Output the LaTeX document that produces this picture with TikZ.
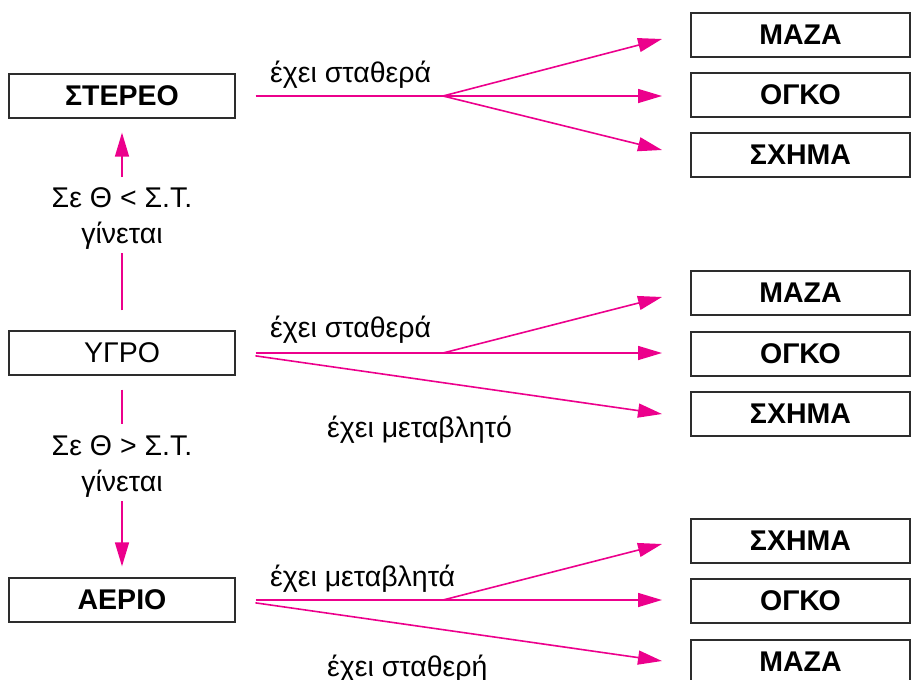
\documentclass[tikz,border=0pt]{standalone}
\usepackage{fontspec}
\setmainfont{Liberation Sans}
\usetikzlibrary{arrows.meta}
\definecolor{rub}{RGB}{236,0,140}
\definecolor{frame}{RGB}{45,45,45}
\begin{document}
\begin{tikzpicture}[x=1pt,y=-1pt,
  txt/.style={font=\fontsize{28.5}{34}\selectfont},
  box/.style={draw=frame, line width=1.3pt, minimum width=226pt, minimum height=44pt, inner sep=0pt, txt},
  bbox/.style={box, font=\fontsize{28.5}{34}\selectfont\bfseries},
  rbox/.style={bbox, minimum width=219pt},
  pl/.style={draw=rub, line width=1.6pt},
  arr/.style={pl, -{Triangle[length=24pt,width=14pt]}},
  lab/.style={txt, inner sep=0pt, anchor=base west},
  vlab/.style={txt, inner sep=0pt, anchor=base}
]
\useasboundingbox (0,0) rectangle (911,680);
\clip (0,0) rectangle (911,680);
% left column
\node[bbox] (stereo) at (122,96) {ΣΤΕΡΕΟ};
\node[box]  (ygro)   at (122,353) {ΥΓΡΟ};
\node[bbox] (aerio)  at (122,600) {ΑΕΡΙΟ};
% right boxes
\node[rbox] (maza1)  at (800.5,35)  {ΜΑΖΑ};
\node[rbox] (ogko1)  at (800.5,95)  {ΟΓΚΟ};
\node[rbox] (sxhma1) at (800.5,155) {ΣΧΗΜΑ};
\node[rbox] (maza2)  at (800.5,293) {ΜΑΖΑ};
\node[rbox] (ogko2)  at (800.5,354) {ΟΓΚΟ};
\node[rbox] (sxhma2) at (800.5,414) {ΣΧΗΜΑ};
\node[rbox] (sxhma3) at (800.5,541) {ΣΧΗΜΑ};
\node[rbox] (ogko3)  at (800.5,601) {ΟΓΚΟ};
\node[rbox] (maza3)  at (800.5,662) {ΜΑΖΑ};
% vertical labels
\node[vlab] (l1a) at (122,207) {Σε Θ < Σ.Τ.};
\node[vlab] (l1b) at (122,243) {γίνεται};
\node[vlab] (l2a) at (122,455) {Σε Θ > Σ.Τ.};
\node[vlab] (l2b) at (122,491) {γίνεται};
% horizontal labels
\node[lab] (h1) at (270,82)  {έχει σταθερά};
\node[lab] (h2) at (270,337) {έχει σταθερά};
\node[lab] (h3) at (327,437) {έχει μεταβλητό};
\node[lab] (h4) at (270,586) {έχει μεταβλητά};
\node[lab] (h5) at (327,676) {έχει σταθερή};
% coordinates
\coordinate (u1) at (122,177);
\coordinate (u0) at (122,253);
\coordinate (d0) at (122,424);
\coordinate (d1) at (122,501);
\coordinate (f1) at (443,96);
\coordinate (f2) at (443,353);
\coordinate (f3) at (443,600);
\coordinate (t11) at (662,39);
\coordinate (t12) at (662,96);
\coordinate (t13) at (662,150);
\coordinate (t21) at (662,297);
\coordinate (t22) at (662,353);
\coordinate (t23) at (662,414);
\coordinate (t31) at (662,544);
\coordinate (t32) at (662,600);
\coordinate (t33) at (662,661);
% vertical connectors
\draw[arr, shorten >=14pt] (u1) -- (stereo.south);
\draw[pl, shorten <=20pt] (ygro.north) -- (u0);
\draw[pl, shorten <=14pt] (ygro.south) -- (d0);
\draw[arr, shorten >=11pt] (d1) -- (aerio.north);
% top fan
\draw[pl, shorten <=20pt] (stereo.east) -- (f1);
\draw[arr] (f1) -- (t11);
\draw[arr] (f1) -- (t12);
\draw[arr] (f1) -- (t13);
% middle fan
\draw[pl, shorten <=20pt] (ygro.east) -- (f2);
\draw[arr] (f2) -- (t21);
\draw[arr] (f2) -- (t22);
\draw[arr, shorten <=20pt] (ygro.east) -- (t23);
% bottom fan
\draw[pl, shorten <=20pt] (aerio.east) -- (f3);
\draw[arr] (f3) -- (t31);
\draw[arr] (f3) -- (t32);
\draw[arr, shorten <=20pt] (aerio.east) -- (t33);
\end{tikzpicture}
\end{document}
